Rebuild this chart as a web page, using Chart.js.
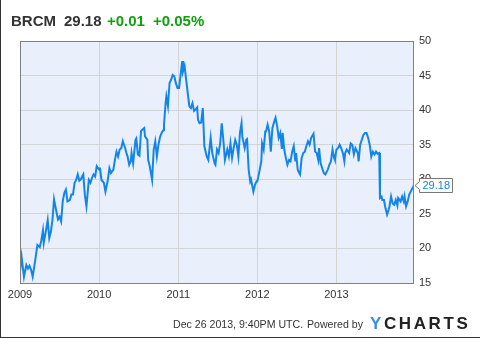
<!DOCTYPE html>
<html>
<head>
<meta charset="utf-8">
<script src="https://cdn.jsdelivr.net/npm/chart.js@4.4.0/dist/chart.umd.min.js"></script>
<style>
  html, body { margin: 0; padding: 0; background: #fff; }
  #wrap { position: relative; width: 480px; height: 338px; overflow: hidden;
          font-family: 'Liberation Sans', Arial, sans-serif; color: #333; }
  #myChart { position: absolute; left: 0; top: 0; }
  .frame { position: absolute; left: 0; top: 0; width: 480px; height: 338px; box-sizing: border-box;
           border-left: 1px solid #333; border-bottom: 1px solid #333; pointer-events: none; }
  .t { position: absolute; white-space: nowrap; }
  .head { top: 13px; font-size: 15px; line-height: 15px; font-weight: bold; }
  .up { color: #12a012; }
  .foot { top: 319px; font-size: 10.6px; line-height: 11px; }
  .logo { top: 315px; left: 370px; font-size: 17px; line-height: 17px; font-weight: bold; letter-spacing: 2.6px; color: #222; }
  .logo b { color: #3a8de6; }
</style>
</head>
<body>
<div id="wrap">
  <canvas id="myChart" width="480" height="338"></canvas>
  <div class="t head" id="sym" style="left:11px"></div>
  <div class="t head" id="px" style="left:64px"></div>
  <div class="t head up" id="chg" style="left:107px"></div>
  <div class="t head up" id="pct" style="left:153px"></div>
  <div class="t foot" style="left:173px">Dec 26 2013, 9:40PM UTC.</div>
  <div class="t foot" style="left:307px">Powered by</div>
  <div class="t logo"><b>Y</b>CHARTS</div>
  <div class="frame"></div>
</div>
<script>
// BRCM weekly closes, 2009 - Dec 2013
const symbol = 'BRCM';
const lastPrice = '29.18';
const change = '+0.01';
const changePct = '+0.05%';

const weeks = [
  2009.00, 2009.02, 2009.05, 2009.08, 2009.10, 2009.12, 2009.14, 2009.16, 2009.19, 2009.22,
  2009.25, 2009.27, 2009.29, 2009.30, 2009.33, 2009.35, 2009.37, 2009.39, 2009.41, 2009.43,
  2009.46, 2009.48, 2009.50, 2009.52, 2009.54, 2009.56, 2009.58, 2009.60, 2009.63, 2009.65,
  2009.67, 2009.69, 2009.71, 2009.73, 2009.75, 2009.77, 2009.79, 2009.80, 2009.82, 2009.84,
  2009.87, 2009.89, 2009.91, 2009.93, 2009.95, 2009.97, 2010.00, 2010.01, 2010.03, 2010.06,
  2010.08, 2010.11, 2010.13, 2010.15, 2010.18, 2010.20, 2010.22, 2010.24, 2010.26, 2010.28,
  2010.30, 2010.33, 2010.35, 2010.36, 2010.38, 2010.40, 2010.41, 2010.43, 2010.46, 2010.47,
  2010.49, 2010.51, 2010.53, 2010.55, 2010.57, 2010.58, 2010.61, 2010.62, 2010.64, 2010.65,
  2010.67, 2010.69, 2010.71, 2010.73, 2010.75, 2010.77, 2010.79, 2010.81, 2010.82, 2010.84,
  2010.85, 2010.87, 2010.89, 2010.91, 2010.93, 2010.95, 2010.97, 2010.99, 2011.01, 2011.03,
  2011.05, 2011.06, 2011.08, 2011.10, 2011.12, 2011.14, 2011.16, 2011.18, 2011.20, 2011.22,
  2011.24, 2011.25, 2011.27, 2011.29, 2011.31, 2011.32, 2011.33, 2011.36, 2011.38, 2011.41,
  2011.43, 2011.46, 2011.47, 2011.49, 2011.51, 2011.53, 2011.55, 2011.57, 2011.59, 2011.62,
  2011.64, 2011.66, 2011.68, 2011.70, 2011.72, 2011.74, 2011.76, 2011.78, 2011.80, 2011.81,
  2011.84, 2011.86, 2011.87, 2011.89, 2011.91, 2011.92, 2011.95, 2011.97, 2011.99, 2012.00,
  2012.03, 2012.05, 2012.06, 2012.08, 2012.10, 2012.11, 2012.13, 2012.15, 2012.17, 2012.19,
  2012.22, 2012.23, 2012.25, 2012.27, 2012.29, 2012.31, 2012.32, 2012.34, 2012.36, 2012.38,
  2012.40, 2012.42, 2012.44, 2012.46, 2012.48, 2012.49, 2012.51, 2012.52, 2012.54, 2012.56,
  2012.58, 2012.60, 2012.62, 2012.64, 2012.66, 2012.68, 2012.71, 2012.73, 2012.75, 2012.77,
  2012.78, 2012.80, 2012.82, 2012.84, 2012.86, 2012.89, 2012.91, 2012.93, 2012.95, 2012.97,
  2012.98, 2013.00, 2013.02, 2013.04, 2013.06, 2013.08, 2013.10, 2013.11, 2013.13, 2013.16,
  2013.18, 2013.20, 2013.22, 2013.24, 2013.27, 2013.28, 2013.30, 2013.32, 2013.34, 2013.36,
  2013.38, 2013.40, 2013.42, 2013.44, 2013.46, 2013.48, 2013.50, 2013.52, 2013.54, 2013.55,
  2013.57, 2013.58, 2013.60, 2013.62, 2013.64, 2013.66, 2013.67, 2013.69, 2013.71, 2013.73,
  2013.75, 2013.77, 2013.78, 2013.81, 2013.83, 2013.85, 2013.86, 2013.88, 2013.90, 2013.92,
  2013.95, 2013.97, 2013.98
];

const prices = [
  16.6, 18.8, 15.9, 17.6, 17.1, 17.5, 16.9, 15.9, 18.1, 20.5,
  20.2, 21.2, 22.6, 20.8, 22.7, 24.1, 21.5, 22.4, 24.1, 27.1,
  25.3, 24.2, 24.6, 23.9, 26.8, 28.0, 28.5, 26.8, 27.0, 27.8,
  27.8, 29.5, 29.9, 30.7, 29.8, 30.0, 30.5, 30.7, 27.7, 26.1,
  29.9, 29.5, 30.2, 30.7, 30.4, 31.9, 31.4, 31.7, 29.9, 29.5,
  28.2, 29.9, 31.6, 30.9, 31.4, 32.8, 34.0, 33.3, 34.3, 34.5,
  35.5, 34.5, 33.6, 33.3, 32.1, 32.6, 33.8, 32.3, 35.7, 35.9,
  33.6, 33.4, 37.0, 37.2, 37.4, 36.2, 35.7, 32.8, 31.9, 31.2,
  29.9, 34.3, 35.5, 33.3, 35.0, 36.1, 36.7, 37.1, 37.9, 41.0,
  42.0, 40.6, 43.9, 44.4, 45.1, 44.9, 43.9, 43.2, 43.2, 45.1,
  47.1, 45.6, 46.4, 44.4, 42.5, 40.6, 40.3, 41.0, 39.9, 40.1,
  40.4, 38.6, 38.1, 38.2, 40.3, 37.7, 34.8, 33.3, 32.8, 36.0,
  33.8, 32.3, 32.1, 34.3, 33.8, 35.2, 38.1, 35.7, 32.8, 34.3,
  33.3, 35.2, 33.1, 34.5, 35.7, 35.0, 33.3, 36.7, 38.1, 36.2,
  34.5, 35.7, 35.8, 31.4, 29.7, 30.0, 28.2, 29.2, 29.7, 29.7,
  31.4, 32.6, 35.2, 34.3, 36.9, 36.9, 37.9, 36.9, 34.0, 37.4,
  38.6, 38.9, 37.7, 36.0, 36.7, 34.4, 36.7, 34.3, 33.1, 32.1,
  32.8, 32.6, 34.0, 34.8, 32.6, 33.8, 31.4, 31.1, 30.7, 33.1,
  33.8, 34.0, 34.8, 35.5, 35.0, 36.0, 36.6, 34.0, 33.8, 32.8,
  34.5, 32.3, 31.6, 30.9, 30.7, 31.4, 32.1, 32.6, 34.3, 33.1,
  32.8, 34.3, 34.5, 35.0, 34.5, 33.8, 32.6, 33.8, 34.3, 33.8,
  35.2, 35.0, 33.6, 34.5, 33.8, 32.6, 35.0, 35.7, 36.4, 36.7,
  36.7, 36.0, 35.0, 33.3, 34.0, 33.6, 34.0, 33.7, 33.8, 27.3,
  27.5, 27.0, 27.0, 25.8, 24.9, 25.6, 26.1, 27.5, 26.5, 26.3,
  27.0, 26.2, 27.3, 26.8, 27.5, 26.8, 27.5, 26.1, 26.8, 27.8,
  28.5, 28.9, 29.18
];

document.getElementById('sym').textContent = symbol;
document.getElementById('px').textContent = lastPrice;
document.getElementById('chg').textContent = change;
document.getElementById('pct').textContent = changePct;

const lineColor = '#1485e8';

const plotDecor = {
  id: 'plotDecor',
  beforeDraw(chart) {
    const { ctx, chartArea: a } = chart;
    ctx.save();
    ctx.fillStyle = '#e9effb';
    ctx.fillRect(a.left, a.top, a.right - a.left, a.bottom - a.top);
    ctx.restore();
  },
  afterDraw(chart) {
    const { ctx, chartArea: a, scales } = chart;
    ctx.save();
    ctx.strokeStyle = '#808080';
    ctx.lineWidth = 1;
    ctx.strokeRect(a.left + 0.5, a.top + 0.5, a.right - a.left - 1, a.bottom - a.top);

    // last value callout
    const i = prices.length - 1;
    const px = Math.round(scales.x.getPixelForValue(weeks[i]));
    const py = Math.round(scales.y.getPixelForValue(prices[i])) + 0.5;
    const bx = px + 5.5, w = 33, h = 14, top = py - 7;
    ctx.beginPath();
    ctx.moveTo(px + 1, py);
    ctx.lineTo(bx, py - 4);
    ctx.lineTo(bx, top);
    ctx.lineTo(bx + w, top);
    ctx.lineTo(bx + w, top + h);
    ctx.lineTo(bx, top + h);
    ctx.lineTo(bx, py + 4);
    ctx.closePath();
    ctx.fillStyle = '#fff';
    ctx.fill();
    ctx.strokeStyle = '#777';
    ctx.stroke();
    ctx.fillStyle = lineColor;
    ctx.font = '11px "Liberation Sans", Arial, sans-serif';
    ctx.textBaseline = 'middle';
    ctx.fillText(lastPrice, bx + 3, py + 0.5);
    ctx.restore();
  }
};

Chart.defaults.font.family = '"Liberation Sans", Arial, sans-serif';
Chart.defaults.font.size = 11;
Chart.defaults.color = '#333';

const ctx = document.getElementById('myChart');
const myChart = new Chart(ctx, {
  type: 'line',
  data: {
    datasets: [{
      data: weeks.map((t, i) => ({ x: t, y: prices[i] })),
      borderColor: lineColor,
      borderWidth: 2,
      pointRadius: 0,
      tension: 0,
      fill: false
    }]
  },
  options: {
    responsive: false,
    animation: false,
    devicePixelRatio: 1,
    layout: { padding: { left: 20, top: 41, right: 0, bottom: 0 } },
    plugins: { legend: { display: false }, tooltip: { enabled: false } },
    scales: {
      x: {
        type: 'linear',
        min: 2009,
        max: 2013.98,
        afterFit: (s) => { s.height = 55; },
        grid: { color: '#d4d4d4', drawTicks: false },
        border: { display: false },
        ticks: {
          stepSize: 1,
          includeBounds: false,
          padding: 5,
          maxRotation: 0,
          callback: (v) => String(v)
        }
      },
      y: {
        position: 'right',
        min: 15,
        max: 50,
        afterFit: (s) => { s.width = 66; },
        grid: { color: '#d4d4d4', drawTicks: false },
        border: { display: false },
        ticks: { stepSize: 5, padding: 5 }
      }
    }
  },
  plugins: [plotDecor]
});
</script>
</body>
</html>
